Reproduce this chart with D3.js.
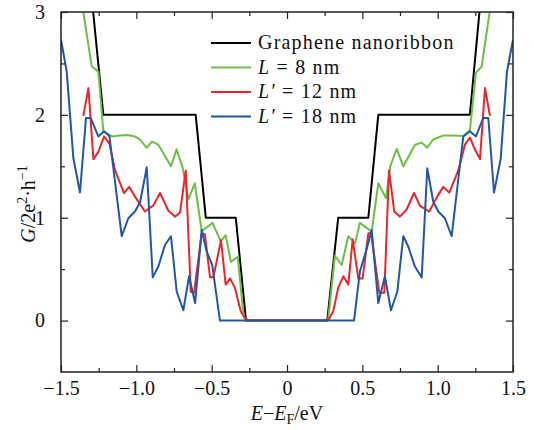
<!DOCTYPE html>
<html>
<head>
<meta charset="utf-8">
<script src="https://cdn.jsdelivr.net/npm/d3@7/dist/d3.min.js"></script>
<style>
  html, body { margin: 0; padding: 0; background: #fff; }
  svg { display: block; }
  text { font-family: "Liberation Serif", "Times New Roman", serif; fill: #111; }
</style>
</head>
<body>
<svg id="chart" width="534" height="430"></svg>
<script>
// ---------------- data ----------------
const seriesNames = ["Graphene nanoribbon", "L8", "L12", "L18"];

const gnrE = [-1.30, -1.219, -0.606, -0.539, -0.340, -0.272, 0.267, 0.340, 0.540, 0.606, 1.214, 1.29];
const gnrG = [3.2, 2, 2, 1, 1, 0, 0, 1, 1, 2, 2, 3.2];

const l8E = [-1.373, -1.296, -1.252, -1.219, -1.163, -1.11, -1.06, -1.01, -0.975, -0.931, -0.896, -0.854,
  -0.77, -0.733, -0.693, -0.654, -0.612, -0.566, -0.494, -0.44, -0.407, -0.372, -0.327, -0.29, -0.279, -0.25,
  0.25, 0.274, 0.318, 0.363, 0.407, 0.451, 0.484, 0.562, 0.606, 0.657, 0.685, 0.728, 0.772, 0.85, 0.894,
  0.931, 0.97, 1.04, 1.10, 1.17, 1.214, 1.254, 1.292, 1.365];
const l8G = [3.2, 2.47, 2.42, 1.84, 1.79, 1.80, 1.805, 1.79, 1.76, 1.68, 1.74, 1.71,
  1.50, 1.665, 1.49, 1.18, 1.335, 0.87, 0.95, 0.77, 0.83, 0.57, 0.62, 0.07, 0.02, 0,
  0, 0.02, 0.63, 0.54, 0.82, 0.75, 0.95, 0.865, 1.335, 1.19, 1.50, 1.67, 1.50, 1.71, 1.73,
  1.68, 1.76, 1.80, 1.80, 1.795, 1.85, 2.41, 2.47, 3.2];

const l12E = [-1.352, -1.318, -1.285, -1.252, -1.214, -1.179, -1.141, -1.082, -1.048, -1.009, -0.943, -0.887,
  -0.843, -0.788, -0.743, -0.71, -0.672, -0.639, -0.617, -0.566, -0.545, -0.511, -0.489, -0.438, -0.407,
  -0.378, -0.345, -0.307, -0.279, -0.25,
  0.25, 0.281, 0.307, 0.340, 0.374, 0.407, 0.436, 0.473, 0.502, 0.540, 0.558, 0.613, 0.646, 0.677, 0.712,
  0.75, 0.794, 0.843, 0.883, 0.944, 0.997, 1.037, 1.077, 1.137, 1.181, 1.214, 1.248, 1.281, 1.314, 1.347];
const l12G = [1.99, 2.26, 1.57, 1.64, 1.79, 1.72, 1.46, 1.24, 1.30, 1.205, 1.06, 1.12,
  1.24, 1.07, 1.01, 1.05, 1.46, 0.28, 0.27, 0.85, 0.84, 0.42, 0.42, 0.78, 0.35,
  0.41, 0.315, 0.09, 0.02, 0,
  0, 0.02, 0.09, 0.32, 0.43, 0.35, 0.79, 0.41, 0.41, 0.85, 0.85, 0.27, 0.27, 1.46, 1.06,
  1.01, 1.08, 1.24, 1.115, 1.06, 1.205, 1.30, 1.245, 1.46, 1.71, 1.78, 1.66, 1.57, 2.26, 1.99];

const l18E = [-1.5, -1.462, -1.418, -1.374, -1.334, -1.303, -1.252, -1.214, -1.179, -1.097, -1.053, -1.009,
  -0.975, -0.931, -0.891, -0.854, -0.810, -0.770, -0.732, -0.688, -0.650, -0.61, -0.566, -0.533, -0.496,
  -0.445, 0.445, 0.484, 0.524, 0.562, 0.606, 0.650, 0.69, 0.732, 0.772, 0.805, 0.849, 0.894, 0.931,
  0.971, 1.004, 1.048, 1.093, 1.17, 1.214, 1.254, 1.303, 1.336, 1.374, 1.418, 1.46, 1.5];
const l18G = [2.73, 2.42, 1.58, 1.245, 1.97, 1.97, 1.79, 1.84, 1.795, 0.82, 0.995, 1.06,
  1.15, 1.49, 0.42, 0.525, 0.735, 0.82, 0.28, 0.10, 0.43, 0.17, 0.88, 0.67, 0.54,
  0, 0, 0.48, 0.67, 0.88, 0.17, 0.43, 0.10, 0.28, 0.82, 0.72, 0.525, 0.42, 1.48,
  1.155, 1.06, 0.995, 0.82, 1.79, 1.84, 1.79, 1.97, 1.97, 1.245, 1.57, 2.42, 2.73];

const xTicks = [-1.5, -1.0, -0.5, 0, 0.5, 1.0, 1.5];
const xMinorTicks = [-1.25, -0.75, -0.25, 0.25, 0.75, 1.25];
const yTicks = [0, 1, 2, 3];
const yMinorTicks = [0.5, 1.5, 2.5];
const colors = ["#000000", "#6cbf47", "#e8262b", "#2157a6"];

// ---------------- layout ----------------
const svg = d3.select("#chart");
const L = 61, R = 513, T = 12, B = 372;
const x = d3.scaleLinear().domain([-1.5, 1.5]).range([L, R]);
const y = d3.scaleLinear().domain([-0.5, 3]).range([B, T]);

svg.append("defs").append("clipPath").attr("id", "clip")
  .append("rect").attr("x", L).attr("y", T).attr("width", R - L).attr("height", B - T);

const series = [
  { e: gnrE, g: gnrG },
  { e: l8E, g: l8G },
  { e: l12E, g: l12G },
  { e: l18E, g: l18G }
];

const line = d3.line().x(d => x(d[0])).y(d => y(d[1]));
const plot = svg.append("g").attr("clip-path", "url(#clip)");
series.forEach((s, i) => {
  const pts = s.e.map((v, k) => [v, s.g[k]]);
  plot.append("path").datum(pts)
    .attr("d", line)
    .attr("fill", "none")
    .attr("stroke", colors[i])
    .attr("stroke-width", 2)
    .attr("stroke-linejoin", "round");
});

// ---------------- axes ----------------
const fmtX = d => d === 0 ? "0" : d.toFixed(1).replace("-", "\u2212");
const fontSize = 20;

function styleAxis(g) {
  g.select(".domain").remove();
  g.selectAll("line").attr("stroke", "#222").attr("stroke-width", 1.2);
  g.selectAll("text").attr("font-size", fontSize).attr("fill", "#111")
    .attr("font-family", "Liberation Serif, serif");
}

svg.append("g").attr("transform", `translate(0,${B})`)
  .call(d3.axisBottom(x).tickValues(xTicks).tickSize(-7).tickPadding(9).tickFormat(fmtX)).call(styleAxis);
svg.append("g").attr("transform", `translate(0,${B})`)
  .call(d3.axisBottom(x).tickValues(xMinorTicks).tickSize(-4).tickFormat("")).call(styleAxis);
svg.append("g").attr("transform", `translate(0,${T})`)
  .call(d3.axisTop(x).tickValues(xTicks).tickSize(-7).tickFormat("")).call(styleAxis);
svg.append("g").attr("transform", `translate(0,${T})`)
  .call(d3.axisTop(x).tickValues(xMinorTicks).tickSize(-4).tickFormat("")).call(styleAxis);

svg.append("g").attr("transform", `translate(${L},0)`)
  .call(d3.axisLeft(y).tickValues(yTicks).tickSize(-7).tickPadding(16).tickFormat(d3.format("d"))).call(styleAxis);
svg.append("g").attr("transform", `translate(${L},0)`)
  .call(d3.axisLeft(y).tickValues(yMinorTicks).tickSize(-4).tickFormat("")).call(styleAxis);
svg.append("g").attr("transform", `translate(${R},0)`)
  .call(d3.axisRight(y).tickValues(yTicks).tickSize(-7).tickFormat("")).call(styleAxis);
svg.append("g").attr("transform", `translate(${R},0)`)
  .call(d3.axisRight(y).tickValues(yMinorTicks).tickSize(-4).tickFormat("")).call(styleAxis);

svg.append("rect").attr("x", L).attr("y", T).attr("width", R - L).attr("height", B - T)
  .attr("fill", "none").attr("stroke", "#222").attr("stroke-width", 1.5);

// axis titles
const xt = svg.append("text").attr("x", 287).attr("y", 420).attr("text-anchor", "middle")
  .attr("font-size", fontSize);
xt.append("tspan").attr("font-style", "italic").text("E");
xt.append("tspan").text("\u2212");
xt.append("tspan").attr("font-style", "italic").text("E");
xt.append("tspan").attr("font-size", 14).attr("dy", 4).text("F");
xt.append("tspan").attr("dy", -4).text("/eV");

const yt = svg.append("text").attr("transform", "translate(35,204) rotate(-90)")
  .attr("text-anchor", "middle").attr("font-size", fontSize);
yt.append("tspan").attr("font-style", "italic").text("G");
yt.append("tspan").text("/2e");
yt.append("tspan").attr("font-size", 14).attr("dy", -8).text("2");
yt.append("tspan").attr("dy", 8).text("\u00b7h");
yt.append("tspan").attr("font-size", 14).attr("dy", -8).text("\u22121");

// ---------------- legend ----------------
const legendY = [43, 67.5, 92, 116.5];
const leg = svg.append("g");
seriesNames.forEach((name, i) => {
  leg.append("line").attr("x1", 211).attr("x2", 251)
    .attr("y1", legendY[i]).attr("y2", legendY[i])
    .attr("stroke", colors[i]).attr("stroke-width", 2);
  const t = leg.append("text").attr("x", 258).attr("y", legendY[i] + 6)
    .attr("font-size", fontSize).attr("letter-spacing", 1.2);
  if (i === 0) {
    t.text(name);
  } else {
    const lbl = i === 1 ? "L" : "L\u2032";
    const val = i === 1 ? "8 nm" : (i === 2 ? "12 nm" : "18 nm");
    t.append("tspan").attr("font-style", "italic").text(lbl);
    t.append("tspan").text(" = " + val);
  }
});
</script>
</body>
</html>
